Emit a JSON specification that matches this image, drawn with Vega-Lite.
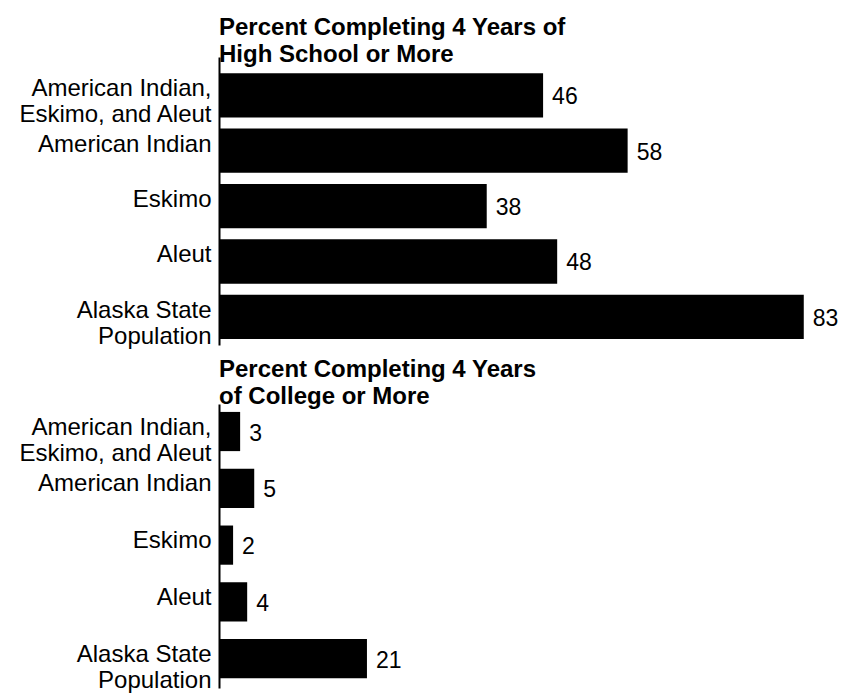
{
  "$schema": "https://vega.github.io/schema/vega-lite/v6.json",
  "padding": {"left": 17, "top": 16, "right": 5, "bottom": 0},
  "background": "white",
  "config": {
    "font": "Liberation Sans",
    "view": {"stroke": null},
    "axis": {"grid": false},
    "concat": {"spacing": 9}
  },
  "datasets": {
    "hs": [
      {"group": "American Indian, Eskimo, and Aleut", "pct": 46},
      {"group": "American Indian", "pct": 58},
      {"group": "Eskimo", "pct": 38},
      {"group": "Aleut", "pct": 48},
      {"group": "Alaska State Population", "pct": 83}
    ],
    "col": [
      {"group": "American Indian, Eskimo, and Aleut", "pct": 3},
      {"group": "American Indian", "pct": 5},
      {"group": "Eskimo", "pct": 2},
      {"group": "Aleut", "pct": 4},
      {"group": "Alaska State Population", "pct": 21}
    ]
  },
  "vconcat": [
    {
      "data": {"name": "hs"},
      "width": 620,
      "height": 288,
      "title": {
        "text": ["Percent Completing 4 Years of", "High School or More"],
        "anchor": "start",
        "frame": "group",
        "fontSize": 24,
        "fontWeight": "bold",
        "lineHeight": 27,
        "color": "black",
        "offset": -10
      },
      "encoding": {
        "y": {
          "field": "group",
          "type": "nominal",
          "sort": null,
          "scale": {"paddingInner": 0.2, "paddingOuter": 0.2, "align": 0.73},
          "axis": {
            "title": null,
            "ticks": false,
            "domainColor": "black",
            "domainWidth": 2,
            "labelFontSize": 24,
            "labelColor": "black",
            "labelPadding": 8,
            "labelLimit": 400,
            "labelOffset": -6,
            "labelLineHeight": 26,
            "labelExpr": "datum.value == 'American Indian, Eskimo, and Aleut' ? ['American Indian,', 'Eskimo, and Aleut'] : datum.value == 'Alaska State Population' ? ['Alaska State', 'Population'] : datum.value"
          }
        },
        "x": {
          "field": "pct",
          "type": "quantitative",
          "scale": {"domain": [0, 88]},
          "axis": null
        }
      },
      "layer": [
        {"mark": {"type": "bar", "color": "black"}},
        {
          "mark": {"type": "text", "align": "left", "baseline": "middle", "dx": 9, "dy": 2, "fontSize": 23, "color": "black"},
          "encoding": {"text": {"field": "pct", "type": "quantitative"}}
        }
      ]
    },
    {
      "data": {"name": "col"},
      "width": 620,
      "height": 284,
      "title": {
        "text": ["Percent Completing 4 Years", "of College or More"],
        "anchor": "start",
        "frame": "group",
        "fontSize": 24,
        "fontWeight": "bold",
        "lineHeight": 27,
        "color": "black",
        "offset": -5
      },
      "encoding": {
        "y": {
          "field": "group",
          "type": "nominal",
          "sort": null,
          "scale": {"paddingInner": 0.31, "paddingOuter": 0.155, "align": 0.45},
          "axis": {
            "title": null,
            "ticks": false,
            "domainColor": "black",
            "domainWidth": 2,
            "labelFontSize": 24,
            "labelColor": "black",
            "labelPadding": 8,
            "labelLimit": 400,
            "labelOffset": -4,
            "labelLineHeight": 26,
            "labelExpr": "datum.value == 'American Indian, Eskimo, and Aleut' ? ['American Indian,', 'Eskimo, and Aleut'] : datum.value == 'Alaska State Population' ? ['Alaska State', 'Population'] : datum.value"
          }
        },
        "x": {
          "field": "pct",
          "type": "quantitative",
          "scale": {"domain": [0, 88]},
          "axis": null
        }
      },
      "layer": [
        {"mark": {"type": "bar", "color": "black"}},
        {
          "mark": {"type": "text", "align": "left", "baseline": "middle", "dx": 9, "dy": 2, "fontSize": 23, "color": "black"},
          "encoding": {"text": {"field": "pct", "type": "quantitative"}}
        }
      ]
    }
  ]
}
